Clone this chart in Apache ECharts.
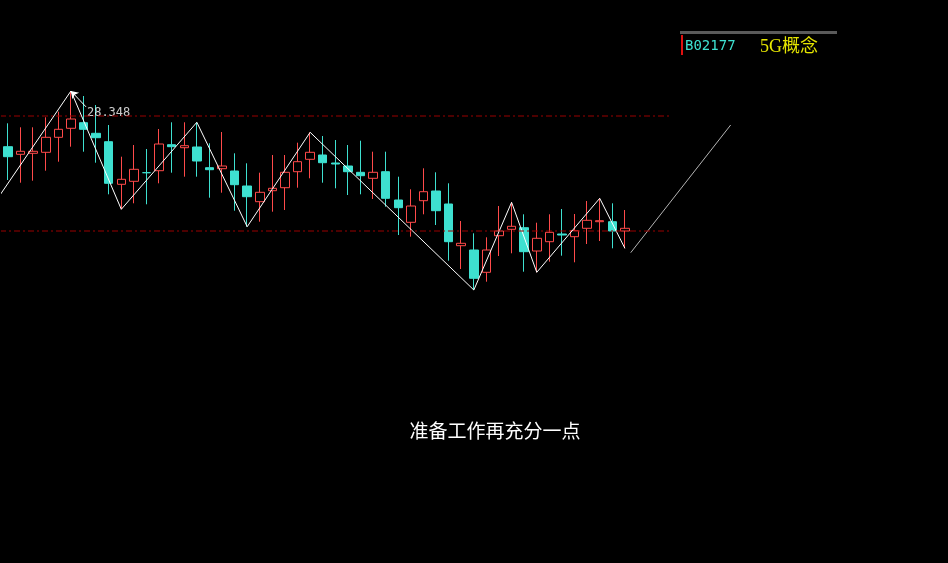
<!DOCTYPE html>
<html><head><meta charset="utf-8">
<script src="https://cdn.jsdelivr.net/npm/echarts@6/dist/echarts.min.js"></script>
<style>html,body{margin:0;padding:0;background:#000;}#c{width:948px;height:563px;}</style>
</head><body><div id="c"></div>
<script>
// candle data: [open, close, low, high]
const opens  = [27.234,27.082,27.102,27.122,27.422,27.602,27.714,27.502,27.334,26.482,26.542,26.714,26.754,27.274,27.214,27.228,26.814,26.794,26.748,26.448,26.134,26.354,26.414,26.734,26.982,27.068,26.908,26.848,26.722,26.602,26.734,26.168,25.722,26.154,26.348,26.088,25.254,25.168,24.722,25.454,25.582,25.614,25.148,25.334,25.488,25.434,25.602,25.734,25.734,25.548];
const closes = [27.034,27.142,27.142,27.422,27.582,27.788,27.582,27.414,26.502,26.582,26.782,26.714,27.288,27.234,27.254,26.948,26.774,26.848,26.474,26.234,26.322,26.402,26.722,26.934,27.122,26.914,26.888,26.734,26.654,26.722,26.202,26.014,26.048,26.334,25.954,25.334,25.302,24.602,25.168,25.548,25.642,25.134,25.402,25.522,25.468,25.554,25.762,25.754,25.548,25.602];
const lows   = [26.568,26.514,26.554,26.754,26.934,27.234,27.134,26.914,26.282,25.982,26.102,26.082,26.502,26.714,26.634,26.634,26.214,26.314,25.954,25.634,25.734,25.934,25.968,26.414,26.602,26.514,26.402,26.268,26.282,26.188,26.034,25.468,25.434,25.882,25.668,24.954,24.788,24.368,24.534,25.048,25.102,24.734,24.722,24.934,25.054,24.922,25.288,25.348,25.202,25.202];
const highs  = [27.702,27.622,27.622,27.822,27.934,28.348,28.248,28.068,27.668,27.034,27.268,27.188,27.588,27.722,27.722,27.722,27.302,27.528,27.102,26.902,26.714,27.068,27.068,27.314,27.522,27.448,27.368,27.268,27.354,27.134,27.134,26.634,26.382,26.802,26.722,26.502,25.748,25.502,25.422,26.048,26.122,25.882,25.714,25.882,25.988,25.888,26.148,26.202,26.102,25.968];
// zigzag turning points: [candle index, price]
const zigzag = [[-0.635,26.268],[5,28.348],[9,25.982],[15,27.722],[19,25.634],[24,27.522],[37,24.368],[40,26.122],[42,24.722],[47,26.202],[49,25.202]];
// projection line
const projection = [[49.46,25.114],[57.4,27.668]];
// reference levels (dashed)
const levels = [27.848, 25.548];
const levelStart = -0.635;
const levelEnd = 52.6;
const highLabel = '28.348';
const highPoint = [5, 28.348];
const totalSlots = 75;
const categories = Array.from({length: totalSlots}, (_, i) => String(i + 1));
const title = '准备工作再充分一点';
const code = 'B02177';
const sector = '5G概念';

const candleData = opens.map((o, i) => [o, closes[i], lows[i], highs[i]]);

const chart = echarts.init(document.getElementById('c'));
const series = [
  {
    type: 'candlestick', xAxisIndex: 0, yAxisIndex: 0, data: candleData, barWidth: 9,
    itemStyle: { color: '#000', color0: '#3ee0d0', borderColor: '#ff4a4a', borderColor0: '#3ee0d0', borderWidth: 1 }
  },
  {
    type: 'line', xAxisIndex: 1, yAxisIndex: 0, data: zigzag, symbol: 'none', silent: true, clip: false,
    lineStyle: { color: '#ffffff', width: 1 },
    markLine: {
      silent: true, symbol: ['none', 'arrow'], symbolSize: 7,
      lineStyle: { color: '#ffffff', width: 1, type: 'solid' }, label: { show: false },
      data: [[{ coord: [6.2, 28.03] }, { coord: highPoint }]]
    }
  },
  {
    type: 'line', xAxisIndex: 1, yAxisIndex: 0, data: projection, symbol: 'none', silent: true,
    lineStyle: { color: '#b4b4b4', width: 1 }
  },
  {
    type: 'scatter', xAxisIndex: 1, yAxisIndex: 0, data: [[6.27, 27.908]], symbolSize: 0, silent: true,
    label: { show: true, position: 'right', distance: 0, formatter: highLabel, color: '#ffffff', fontSize: 12, fontFamily: 'DejaVu Sans Mono' }
  }
];
levels.forEach(v => series.push({
  type: 'line', xAxisIndex: 1, yAxisIndex: 0, data: [[levelStart, v], [levelEnd, v]], symbol: 'none', silent: true, clip: false,
  lineStyle: { color: '#9a0000', width: 1, type: [6, 3, 2, 3] }
}));

chart.setOption({
  backgroundColor: '#000',
  animation: false,
  title: { text: title, left: 490, top: 416, textAlign: 'center',
    textStyle: { color: '#ffffff', fontSize: 19, fontWeight: 'normal', fontFamily: 'Noto Sans CJK SC' } },
  grid: { left: 1.7, width: totalSlots * 12.59, top: 8.4, height: 500 },
  xAxis: [
    { type: 'category', data: categories, boundaryGap: true, show: false },
    { type: 'value', min: -0.5, max: totalSlots - 0.5, show: false }
  ],
  yAxis: [{ type: 'value', min: 20, max: 30, show: false, splitLine: { show: false } }],
  graphic: [
    { type: 'rect', shape: { x: 680, y: 31, width: 157, height: 3 }, style: { fill: '#5a5a5a' } },
    { type: 'rect', shape: { x: 681, y: 35, width: 2, height: 20 }, style: { fill: '#e01010' } },
    { type: 'text', x: 685, y: 39, style: { text: code, fill: '#3ee0d0', font: '14px "DejaVu Sans Mono"' } },
    { type: 'text', x: 760, y: 38, style: { text: sector, fill: '#e6e600', font: '18px "Liberation Serif", "Noto Sans CJK SC"' } }
  ],
  series: series
});
</script></body></html>
